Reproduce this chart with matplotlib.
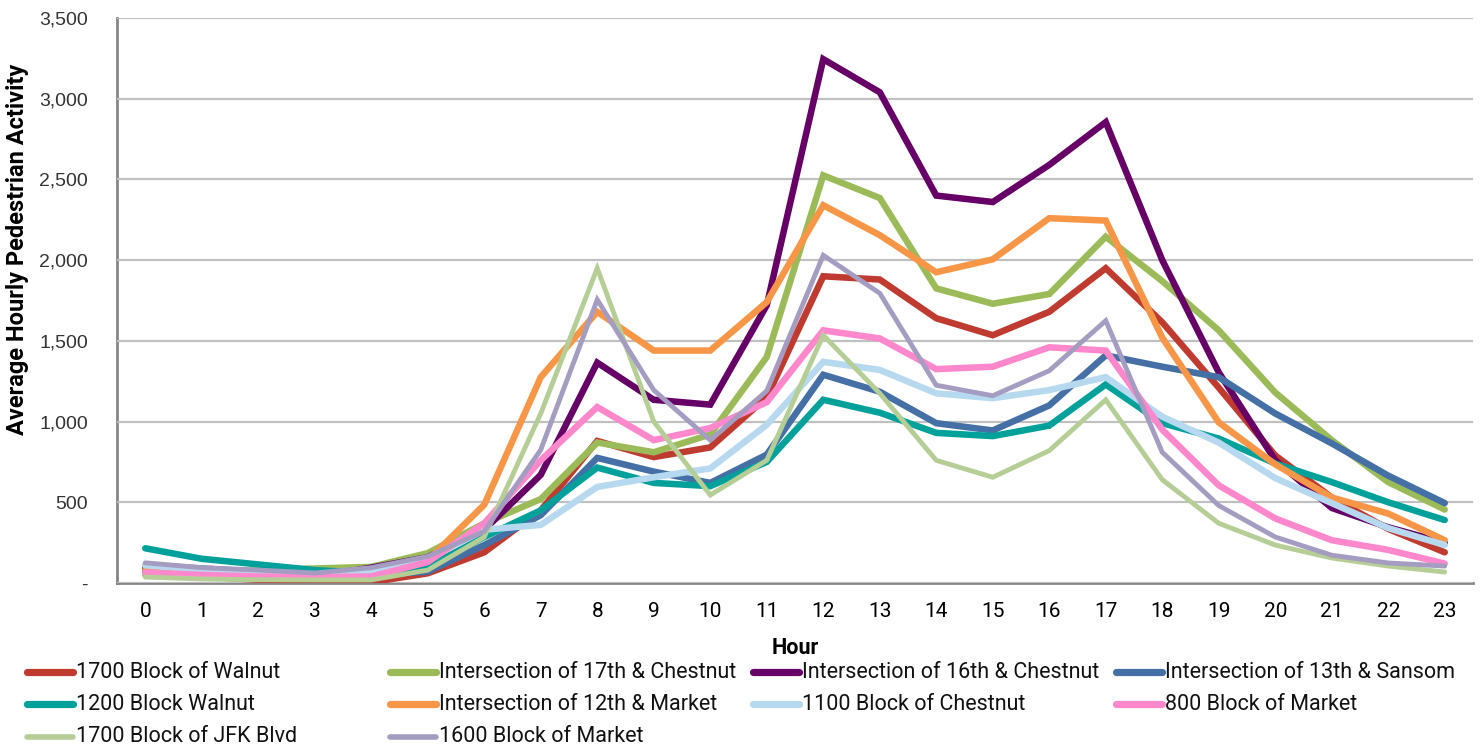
import matplotlib
matplotlib.use("Agg")
import matplotlib.pyplot as plt
from matplotlib.lines import Line2D
from matplotlib.ticker import FuncFormatter

# Hour of day on the x axis
hours = list(range(24))

# Average hourly pedestrian counts
walnut_1700 = [70, 40, 20, 10, 5, 60, 190, 450, 880, 780, 840, 1150,
               1900, 1880, 1640, 1535, 1680, 1950, 1615, 1210, 790, 530, 335, 190]
chestnut_17th = [50, 60, 80, 90, 100, 185, 370, 520, 870, 810, 920, 1400,
                 2525, 2385, 1825, 1730, 1790, 2145, 1870, 1565, 1180, 885, 625, 455]
chestnut_16th = [90, 70, 50, 40, 95, 160, 330, 670, 1365, 1135, 1105, 1720,
                 3245, 3040, 2400, 2360, 2590, 2855, 2000, 1305, 760, 465, 345, 250]
sansom_13th = [110, 90, 70, 50, 50, 70, 235, 420, 775, 690, 620, 795,
               1290, 1185, 990, 945, 1100, 1410, 1340, 1275, 1050, 865, 665, 495]
walnut_1200 = [215, 150, 115, 80, 60, 100, 285, 450, 715, 620, 600, 750,
               1135, 1055, 930, 910, 975, 1230, 990, 895, 740, 625, 500, 390]
market_12th = [80, 60, 50, 40, 55, 140, 485, 1275, 1680, 1440, 1440, 1740,
               2340, 2155, 1925, 2005, 2260, 2245, 1520, 995, 735, 530, 430, 265]
chestnut_1100 = [110, 80, 65, 50, 75, 150, 330, 360, 595, 655, 710, 980,
                 1370, 1320, 1175, 1145, 1195, 1275, 1030, 870, 650, 495, 340, 235]
market_800 = [65, 50, 40, 37, 40, 130, 370, 760, 1090, 885, 960, 1120,
              1565, 1515, 1325, 1340, 1460, 1440, 950, 605, 400, 265, 205, 120]
jfk_1700 = [37, 25, 20, 19, 19, 80, 285, 1050, 1950, 1000, 545, 760,
            1535, 1175, 760, 655, 820, 1135, 640, 370, 235, 155, 105, 68]
market_1600 = [125, 95, 80, 62, 95, 165, 320, 825, 1755, 1195, 885, 1190,
               2030, 1795, 1225, 1160, 1315, 1625, 810, 480, 285, 172, 124, 105]

names = ["1700 Block of Walnut", "Intersection of 17th & Chestnut",
         "Intersection of 16th & Chestnut", "Intersection of 13th & Sansom",
         "1200 Block Walnut", "Intersection of 12th & Market",
         "1100 Block of Chestnut", "800 Block of Market",
         "1700 Block of JFK Blvd", "1600 Block of Market"]
series = [walnut_1700, chestnut_17th, chestnut_16th, sansom_13th,
          walnut_1200, market_12th, chestnut_1100, market_800,
          jfk_1700, market_1600]
colors = ["#BF3B30", "#9BBB59", "#660066", "#4470A6",
          "#00A19A", "#F79646", "#B7D9F0", "#FF88CC",
          "#B5CE96", "#A59CC1"]
widths = [4.7, 4.7, 4.7, 4.7, 4.7, 4.7, 4.7, 4.7, 3.5, 3.5]

FONT = "Roboto"

fig = plt.figure(figsize=(14.81, 7.51), dpi=100)
ax = fig.add_axes([117 / 1481, 1 - 583 / 751, (1473 - 117) / 1481, (583 - 18) / 751])

for name, vals, col, lw in zip(names, series, colors, widths):
    ax.plot(hours, vals, color=col, linewidth=lw, solid_capstyle="round",
            solid_joinstyle="miter", label=name)

ax.set_xlim(-0.5, 23.5)
ax.set_ylim(0, 3500)
ax.set_xticks(hours)
ax.set_yticks(range(0, 3501, 500))
ax.yaxis.set_major_formatter(FuncFormatter(lambda v, p: "-" if v == 0 else f"{v:,.0f}"))
ax.tick_params(length=0)
ax.tick_params(axis="x", pad=14, labelsize=15)
ax.tick_params(axis="y", pad=21, labelsize=14)
for lab in ax.get_xticklabels():
    lab.set_fontfamily(FONT)
for lab in ax.get_yticklabels():
    lab.set_fontfamily("Liberation Sans")
    lab.set_color("#333333")

ax.grid(axis="y", color="#C0C0C0", linewidth=1.6)
ax.set_axisbelow(True)
for s in ["top", "right"]:
    ax.spines[s].set_visible(False)
for s in ["left", "bottom"]:
    ax.spines[s].set_color("#868686")
    ax.spines[s].set_linewidth(2)
    ax.spines[s].set_zorder(0.5)

ax.set_xlabel("Hour", fontsize=15.5, fontweight="bold", family=FONT, labelpad=11)
fig.text(18 / 1481, 1 - 249 / 751, "Average Hourly Pedestrian Activity",
         rotation=90, ha="center", va="center", fontsize=17,
         fontweight="bold", family=FONT)

# legend laid out in four even columns like the original
col_x = [27, 390, 753, 1116]
row_y = [672, 704, 737]
for i, (name, col, lw) in enumerate(zip(names, colors, widths)):
    r, c = divmod(i, 4)
    x0 = col_x[c] / 1481
    y0 = 1 - row_y[r] / 751
    fig.add_artist(Line2D([x0, x0 + 46 / 1481], [y0, y0], color=col,
                          linewidth=lw + 0.5, solid_capstyle="round",
                          transform=fig.transFigure))
    fig.text(x0 + 49 / 1481, y0, name, ha="left", va="center",
             fontsize=15.5, family=FONT, color="#111111")

fig.savefig("out.png", dpi=100)
